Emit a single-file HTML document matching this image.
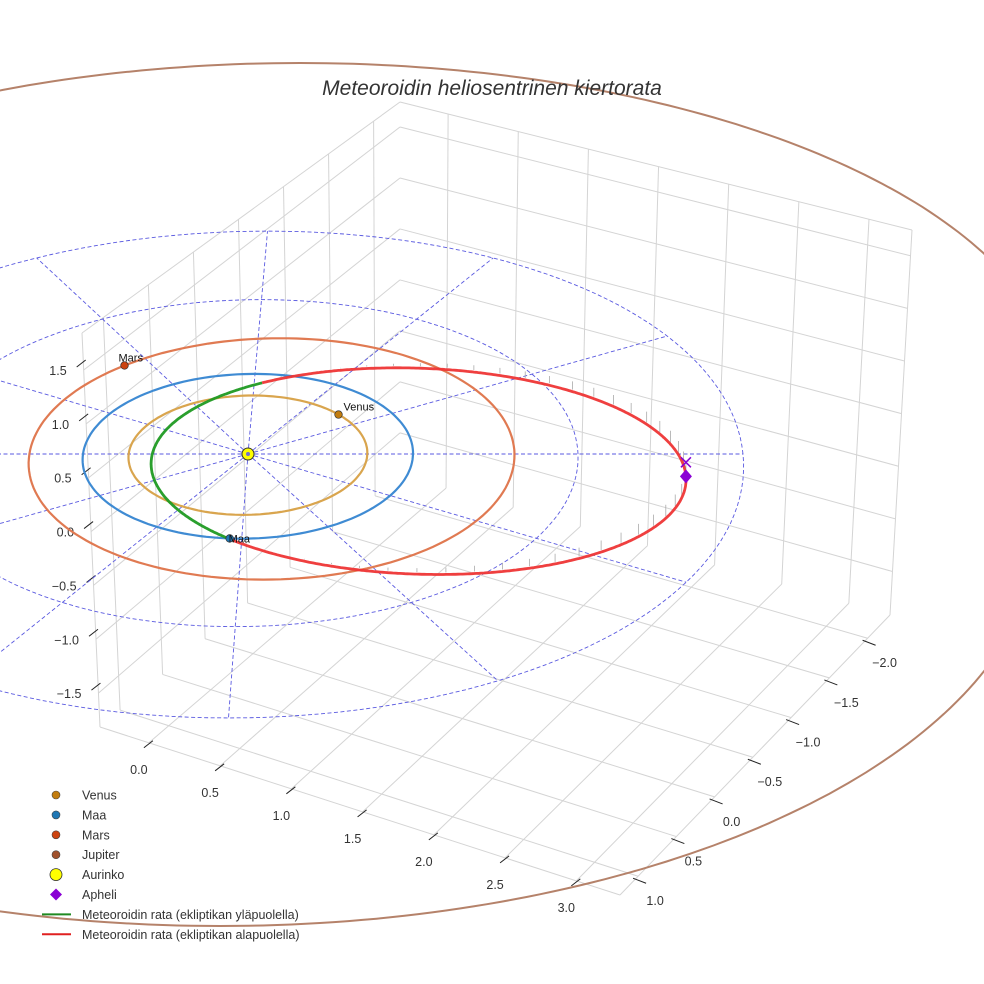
<!DOCTYPE html>
<html><head><meta charset="utf-8"><style>
html,body{margin:0;padding:0;background:#fff;}
svg{display:block;font-family:"Liberation Sans",Arial,sans-serif;}
</style></head><body>
<svg id="chart" width="984" height="984" viewBox="0 0 984 984" xmlns="http://www.w3.org/2000/svg">
<g id="grid"></g>
<g id="data"></g>
<g id="legend"></g>
<text x="492" y="95" text-anchor="middle" font-size="21" font-style="italic" fill="#333">Meteoroidin heliosentrinen kiertorata</text>
</svg>
<script>
// ---- data ----
const xTicks=[0.0,0.5,1.0,1.5,2.0,2.5,3.0];
const yTicks=[1.0,0.5,0.0,-0.5,-1.0,-1.5,-2.0];
const zTicks=[1.5,1.0,0.5,0.0,-0.5,-1.0,-1.5];
const planetNames=['Venus','Maa','Mars'];
const orbitRadii=[0.723,1.0,1.47];
const orbitOffsetX=[0,0,0.145];
const planetAngles=[42,-94,131];
const gridRadii=[1,2,3];
const spokeAngles=[0,30,60,90,120,150,180,210,240,270,300,330];
const meteorPerihelion=0.58;
const meteorAphelion=2.65;
const meteorInclination=2.8;
const meteorShiftY=-0.1;

const NS='http://www.w3.org/2000/svg';
const G=document.getElementById('grid'),D=document.getElementById('data'),L=document.getElementById('legend');
function mk(parent,tag,attrs){const e=document.createElementNS(NS,tag);for(const k in attrs)e.setAttribute(k,attrs[k]);parent.appendChild(e);return e;}
function lerp(a,b,t){return [a[0]+(b[0]-a[0])*t,a[1]+(b[1]-a[1])*t];}
function quad(q,u,v){return lerp(lerp(q[0],q[1],u),lerp(q[3],q[2],u),v);}
function proj(X,Y,Z){const f=Y>=0?(1-0.035*Y):(1-0.02*Y);return [248+165*X*(1-0.03*Y)+6.5*Y, 454-83*Y*f-108*Z];}
function pathFrom(pts){return pts.map((p,i)=>(i?'L':'M')+p[0].toFixed(1)+' '+p[1].toFixed(1)).join(' ');}

// ---- box/grid ----
const rightWall=[[400,102],[912,230],[890,615],[400,475]];
const leftWall=[[82,333],[400,102],[400,475],[100,727]];
const floorQ=[[400,475],[890,615],[620,895],[100,727]];
const xu=x=>0.094+x*(0.822/3);
const yf=y=>0.067+(1-y)*(0.85/3);
const zl=z=>0.094+(1.5-z)*(0.82/3);
const zr=z=>0.067+(1.5-z)*(0.82/3);
const gc='#d4d4d4';
function gl(a,b,name){const e=mk(G,'line',{x1:a[0],y1:a[1],x2:b[0],y2:b[1],stroke:gc,'stroke-width':1});

}
xTicks.forEach(x=>{const u=xu(x);gl(quad(rightWall,u,0),quad(rightWall,u,1),'grid-x-wall');gl(quad(floorQ,u,0),quad(floorQ,u,1),'grid-x-floor');});
zTicks.forEach(z=>{gl(quad(rightWall,0,zr(z)),quad(rightWall,1,zr(z)),'grid-z-right');gl(quad(leftWall,0,zl(z)),quad(leftWall,1,zr(z)),'grid-z-left');});
yTicks.forEach(y=>{const f=yf(y);gl(quad(leftWall,f,0),quad(leftWall,f,1),'grid-y-wall');gl(quad(floorQ,0,1-f),quad(floorQ,1,1-f),'grid-y-floor');});
[[leftWall[0],leftWall[1]],[rightWall[0],rightWall[1]],[leftWall[0],leftWall[3]],[rightWall[1],rightWall[2]],[floorQ[3],floorQ[2]],[floorQ[2],floorQ[1]]].forEach(s=>gl(s[0],s[1],'box-edge'));
function tl(parent,x,y,txt,anchor,name){const t=mk(parent,'text',{x:x,y:y,'font-size':12.5,fill:'#333','text-anchor':anchor});t.textContent=txt;

return t;}
function fmt(v){return (v<0?'\u2212':'')+Math.abs(v).toFixed(1);}
zTicks.forEach(z=>{const P=lerp(leftWall[0],leftWall[3],zl(z));
const k=mk(G,'line',{x1:P[0]-7,y1:P[1]-3,x2:P[0]+2,y2:P[1]-10,stroke:'#222','stroke-width':1});


tl(G,P[0]-17,P[1]+5,fmt(z),'end','z-tick-label');});
xTicks.forEach(x=>{const P=lerp(floorQ[3],floorQ[2],xu(x));
const k=mk(G,'line',{x1:P[0]-5,y1:P[1]+5,x2:P[0]+4,y2:P[1]-2,stroke:'#222','stroke-width':1});


tl(G,P[0]-10,P[1]+31,fmt(x),'middle','x-tick-label');});
yTicks.forEach(y=>{const P=lerp(floorQ[2],floorQ[1],yf(y));
const k=mk(G,'line',{x1:P[0]-5,y1:P[1]+2,x2:P[0]+8,y2:P[1]+7,stroke:'#222','stroke-width':1});


tl(G,P[0]+17,P[1]+29,fmt(y),'middle','y-tick-label');});

// ---- Jupiter orbit (far, strongly foreshortened; far and near halves) ----
(function(){const top=[],bot=[];
for(let i=0;i<=180;i++){const t=i*Math.PI/180;top.push([300+760*Math.cos(t),401-338*Math.sin(t)]);bot.push([220+820*Math.cos(t),526+400*Math.sin(t)]);}
[top,bot].forEach((pts,j)=>{const e=mk(D,'path',{d:pathFrom(pts),fill:'none',stroke:'#b5826a','stroke-width':2});

});})();

// ---- polar grid ----
gridRadii.forEach(r=>{const pts=[];for(let i=0;i<=360;i+=2){const t=i*Math.PI/180;pts.push(proj(r*Math.cos(t),r*Math.sin(t),0));}
const e=mk(D,'path',{d:pathFrom(pts),fill:'none',stroke:'#5a5ae0','stroke-width':0.9,'stroke-dasharray':'4 2.5'});

});
const rMax=gridRadii[gridRadii.length-1];
spokeAngles.forEach(a=>{const t=a*Math.PI/180;const p0=proj(0,0,0),p1=proj(rMax*Math.cos(t),rMax*Math.sin(t),0);
const e=mk(D,'line',{x1:p0[0],y1:p0[1],x2:p1[0],y2:p1[1],stroke:'#5a5ae0','stroke-width':0.9,'stroke-dasharray':'4 2.5'});

});

// ---- planet orbits ----
const orbitColors=['#d9a54e','#3f8bd3','#e07a52'];
const dotColors=['#c27c0e','#1f77b4','#cc4411'];
[2,1,0].forEach(i=>{const pts=[];for(let d=0;d<=360;d+=2){const t=d*Math.PI/180;pts.push(proj(orbitOffsetX[i]+orbitRadii[i]*Math.cos(t),orbitRadii[i]*Math.sin(t),0));}
const e=mk(D,'path',{d:pathFrom(pts),fill:'none',stroke:orbitColors[i],'stroke-width':2.2});

});

// ---- meteoroid orbit ----
const ma=(meteorPerihelion+meteorAphelion)/2, mc=(meteorAphelion-meteorPerihelion)/2, mb=Math.sqrt(meteorPerihelion*meteorAphelion);
const ti=Math.tan(meteorInclination*Math.PI/180);
function mpt(E){const X=mc+ma*Math.cos(E),Y=meteorShiftY+mb*Math.sin(E);return [X,Y,-ti*(X-0.07*Y)];}
let segs=[],cur=null;
for(let i=0;i<=720;i++){const E=i/720*2*Math.PI;const p=mpt(E);const up=p[2]>=0;
if(!cur||cur.up!==up){if(cur)cur.pts.push(proj(...p));cur={up:up,pts:[]};segs.push(cur);}cur.pts.push(proj(...p));}
for(let i=0;i<60;i++){const E=i/60*2*Math.PI;const p=mpt(E);if(p[2]>=-0.02)continue;
const a=proj(p[0],p[1],p[2]),b=proj(p[0],p[1],0);
const e=mk(D,'line',{x1:a[0],y1:a[1]-2,x2:b[0],y2:b[1],stroke:'#aaa','stroke-width':0.8});

}
segs.forEach(s=>{const e=mk(D,'path',{d:pathFrom(s.pts),fill:'none',stroke:s.up?'#1f9a22':'#ee3535','stroke-width':2.8,'stroke-opacity':0.95});

});

// ---- markers ----
planetNames.forEach((n,i)=>{const t=planetAngles[i]*Math.PI/180;const p=proj(orbitOffsetX[i]+orbitRadii[i]*Math.cos(t),orbitRadii[i]*Math.sin(t),0);
const c=mk(D,'circle',{cx:p[0],cy:p[1],r:3.8,fill:dotColors[i],stroke:'#333','stroke-width':0.7});


const t2=mk(D,'text',{x:p[0]+(i===1?-1:(i===2?-6:5)),y:p[1]+(i===1?4:-4),'font-size':11,fill:'#111'});t2.textContent=n;

});
(function(){const s=proj(0,0,0);
const c=mk(D,'circle',{cx:s[0],cy:s[1],r:6,fill:'#ffff00',stroke:'#333','stroke-width':1});


const c2=mk(D,'circle',{cx:s[0],cy:s[1],r:2,fill:'#7070d0'});


const ap=mpt(0);const a=proj(...ap),b=proj(ap[0],ap[1],0);
const d=mk(D,'path',{d:`M${a[0]} ${a[1]-7} L${a[0]+6} ${a[1]} L${a[0]} ${a[1]+7} L${a[0]-6} ${a[1]} Z`,fill:'#8a00d4'});


const x=mk(D,'path',{d:`M${b[0]-5} ${b[1]-5} L${b[0]+5} ${b[1]+5} M${b[0]+5} ${b[1]-5} L${b[0]-5} ${b[1]+5}`,stroke:'#8a00d4','stroke-width':1.5,fill:'none'});

})();

// ---- legend ----
const legendLabels=['Venus','Maa','Mars','Jupiter','Aurinko','Apheli','Meteoroidin rata (ekliptikan yläpuolella)','Meteoroidin rata (ekliptikan alapuolella)'];
const legendKinds=['dot','dot','dot','dot','sun','diamond','line','line'];
const legendColors=['#c27c0e','#1f77b4','#cc4411','#a0522d','#ffff00','#8a00d4','#1f8a22','#e02020'];
legendLabels.forEach((lab,i)=>{const y=795+i*19.9;const g=mk(L,'g',{});


const k=legendKinds[i];
if(k==='dot')mk(g,'circle',{cx:56,cy:y,r:4,fill:legendColors[i],stroke:'#444','stroke-width':0.6});
else if(k==='sun')mk(g,'circle',{cx:56,cy:y,r:6,fill:legendColors[i],stroke:'#333','stroke-width':0.8});
else if(k==='diamond')mk(g,'path',{d:`M56 ${y-6} L62 ${y} L56 ${y+6} L50 ${y} Z`,fill:legendColors[i]});
else mk(g,'line',{x1:42,y1:y,x2:71,y2:y,stroke:legendColors[i],'stroke-width':2});
const t=mk(g,'text',{x:82,y:y+4.5,'font-size':12.5,fill:'#333'});t.textContent=lab;});
</script>
</body></html>
